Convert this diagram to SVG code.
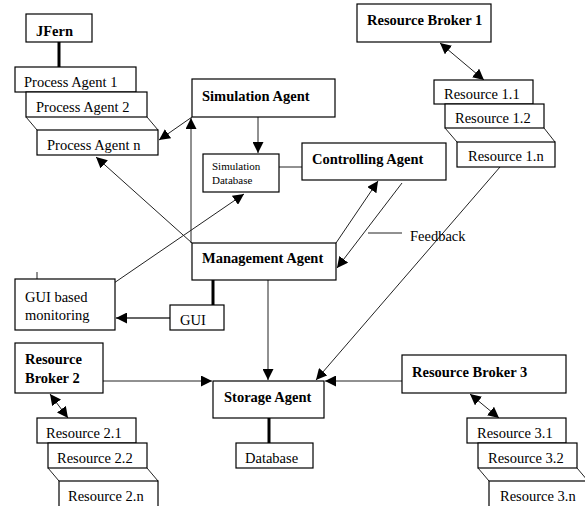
<svg xmlns="http://www.w3.org/2000/svg" width="585" height="506" viewBox="0 0 585 506">
<defs>
<style>
.box{fill:#fff;stroke:#000;stroke-width:1.2}
.ln{fill:none;stroke:#222;stroke-width:1}
.thick{fill:none;stroke:#000;stroke-width:3}
.t{font-family:"Liberation Serif","Times New Roman",serif;font-size:14.5px;fill:#000}
.b{font-family:"Liberation Serif","Times New Roman",serif;font-size:14.5px;font-weight:bold;fill:#000}
.s{font-family:"Liberation Serif","Times New Roman",serif;font-size:11px;fill:#000}
</style>
<marker id="ah" viewBox="0 0 10 10" refX="10" refY="5" markerWidth="11" markerHeight="11" markerUnits="userSpaceOnUse" orient="auto-start-reverse">
<path d="M0,0 L10,5 L0,10 Z" fill="#000"/>
</marker>
</defs>
<rect width="585" height="506" fill="#fff"/>

<g id="connectors">
<line class="thick" x1="59" y1="42" x2="59" y2="67"/>
<line class="ln" x1="258" y1="117" x2="258" y2="153" marker-end="url(#ah)"/>
<line class="ln" x1="279" y1="167" x2="302" y2="167"/>
<line class="ln" x1="192" y1="117" x2="159" y2="140" marker-end="url(#ah)"/>
<line class="ln" x1="191" y1="243" x2="191" y2="118" marker-end="url(#ah)"/>
<line class="ln" x1="192" y1="243" x2="96" y2="157" marker-end="url(#ah)"/>
<line class="ln" x1="114" y1="283" x2="244" y2="194" marker-end="url(#ah)"/>
<line class="ln" x1="440" y1="43" x2="484" y2="80" marker-start="url(#ah)" marker-end="url(#ah)"/>
<line class="ln" x1="500" y1="167" x2="316" y2="380" marker-end="url(#ah)"/>
<line class="ln" x1="336" y1="243" x2="378" y2="181" marker-end="url(#ah)"/>
<line class="ln" x1="402" y1="183" x2="337" y2="268" marker-end="url(#ah)"/>
<line class="ln" x1="368" y1="233" x2="402" y2="233"/>
<line class="thick" x1="213" y1="280" x2="213" y2="305"/>
<line x1="170" y1="318" x2="116" y2="318" stroke="#666" stroke-width="2" marker-end="url(#ah)"/>
<line class="ln" x1="37" y1="272" x2="37" y2="288"/>
<line class="ln" x1="268" y1="280" x2="268" y2="380" marker-end="url(#ah)"/>
<line class="ln" x1="103" y1="381" x2="212" y2="381" marker-end="url(#ah)"/>
<line class="ln" x1="402" y1="381" x2="325" y2="381" marker-end="url(#ah)"/>
<line class="thick" x1="269" y1="418" x2="269" y2="443"/>
<line class="ln" x1="50" y1="394" x2="68" y2="418" marker-start="url(#ah)" marker-end="url(#ah)"/>
<line class="ln" x1="470" y1="394" x2="499" y2="418" marker-start="url(#ah)" marker-end="url(#ah)"/>
</g>

<g id="jfern"><rect class="box" x="26" y="14" width="66" height="28"/><text class="b" x="36" y="36">JFern</text></g>

<g id="process-agents">
<rect class="box" x="15" y="67" width="121" height="25"/><text class="t" x="24" y="87">Process Agent 1</text>
<rect class="box" x="26" y="92" width="121" height="25"/><text class="t" x="36" y="112">Process Agent 2</text>
<line class="ln" x1="26" y1="117" x2="37" y2="130"/><line class="ln" x1="147" y1="117" x2="158" y2="130"/>
<rect class="box" x="37" y="130" width="121" height="25"/><text class="t" x="47" y="150">Process Agent n</text>
</g>

<g id="simulation-agent"><rect class="box" x="192" y="79" width="143" height="38"/><text class="b" x="202" y="101">Simulation Agent</text></g>

<g id="simulation-database"><rect class="box" x="203" y="154" width="76" height="38"/><text class="s" x="212" y="170">Simulation</text><text class="s" x="212" y="184">Database</text></g>

<g id="controlling-agent"><rect class="box" x="302" y="143" width="144" height="37"/><text class="b" x="312" y="164">Controlling Agent</text></g>

<g id="resource-broker-1"><rect class="box" x="357" y="4" width="134" height="38"/><text class="b" x="367" y="25">Resource Broker 1</text></g>

<g id="resources-1">
<rect class="box" x="434" y="80" width="99" height="24"/><text class="t" x="444" y="99">Resource 1.1</text>
<rect class="box" x="445" y="104" width="99" height="24"/><text class="t" x="455" y="123">Resource 1.2</text>
<line class="ln" x1="445" y1="128" x2="457" y2="142"/><line class="ln" x1="544" y1="128" x2="555" y2="142"/>
<rect class="box" x="457" y="142" width="98" height="25"/><text class="t" x="468" y="161">Resource 1.n</text>
</g>

<g id="feedback-label"><text class="t" x="410" y="241">Feedback</text></g>

<g id="management-agent"><rect class="box" x="192" y="243" width="144" height="37"/><text class="b" x="202" y="263">Management Agent</text></g>

<g id="gui-monitoring"><rect class="box" x="15" y="279" width="100" height="51"/><text class="t" x="25" y="302">GUI based</text><text class="t" x="25" y="320">monitoring</text></g>

<g id="gui"><rect class="box" x="170" y="305" width="54" height="25"/><text class="t" x="180" y="325">GUI</text></g>

<g id="storage-agent"><rect class="box" x="213" y="381" width="111" height="37"/><text class="b" x="224" y="402">Storage Agent</text></g>

<g id="database"><rect class="box" x="236" y="443" width="77" height="25"/><text class="t" x="245" y="463">Database</text></g>

<g id="resource-broker-2"><rect class="box" x="15" y="343" width="88" height="50"/><text class="b" x="25" y="364">Resource</text><text class="b" x="25" y="383">Broker 2</text></g>

<g id="resources-2">
<rect class="box" x="37" y="418" width="99" height="25"/><text class="t" x="46" y="438">Resource 2.1</text>
<rect class="box" x="48" y="443" width="99" height="25"/><text class="t" x="57" y="463">Resource 2.2</text>
<line class="ln" x1="48" y1="468" x2="59" y2="481"/><line class="ln" x1="147" y1="468" x2="158" y2="481"/>
<rect class="box" x="59" y="481" width="99" height="27"/><text class="t" x="68" y="501">Resource 2.n</text>
</g>

<g id="resource-broker-3"><rect class="box" x="402" y="355" width="164" height="38"/><text class="b" x="412" y="377">Resource Broker 3</text></g>

<g id="resources-3">
<rect class="box" x="467" y="418" width="99" height="25"/><text class="t" x="477" y="438">Resource 3.1</text>
<rect class="box" x="478" y="443" width="99" height="25"/><text class="t" x="488" y="463">Resource 3.2</text>
<line class="ln" x1="478" y1="468" x2="489" y2="481"/><line class="ln" x1="577" y1="468" x2="588" y2="481"/>
<rect class="box" x="489" y="481" width="99" height="27"/><text class="t" x="500" y="501">Resource 3.n</text>
</g>
</svg>
